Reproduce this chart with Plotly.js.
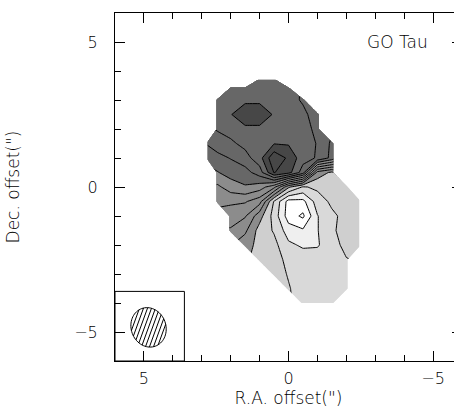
<!DOCTYPE html>
<html>
<head>
<meta charset="utf-8">
<script src="https://cdn.plot.ly/plotly-3.0.1.min.js"></script>
<style>
html,body{margin:0;padding:0;overflow:hidden;background:#fff;}
#chart{width:462px;height:409px;}
</style>
</head>
<body>
<div id="chart"></div>
<script>
// R.A. offsets (arcsec) of the grid columns
const raOffset = [-2.45, -2.0, -1.5, -1.0, -0.5, 0, 0.5, 1.0, 1.5, 2.0, 2.45, 2.8];
// Dec. offsets (arcsec) of the grid rows
const decOffset = [-4.0, -3.5, -3.0, -2.5, -2.0, -1.5, -1.0, -0.5, 0, 0.5, 1.0, 1.5, 2.0, 2.5, 3.0, 3.4, 3.7];
// map values in contour-level units (null = outside the mapped area)
const n = null;
const mapValues = [
  [n,    n,    3.6,  3.6,  3.8,  n,    n,    n,    n,    n,    n,    n   ], // -4.0
  [n,    3.8,  3.6,  3.55, 3.7,  4.05, n,    n,    n,    n,    n,    n   ], // -3.5
  [n,    3.8,  3.6,  3.5,  3.6,  3.95, 4.3,  n,    n,    n,    n,    n   ], // -3.0
  [n,    3.95, 3.7,  3.5,  3.5,  3.8,  4.3,  4.6,  n,    n,    n,    n   ], // -2.5
  [4.5,  4.3,  3.6,  2.9,  2.85, 3.2,  4.3,  4.7,  5.4,  n,    n,    n   ], // -2.0
  [4.6,  4.5,  3.8,  2.95, 2.15, 2.5,  3.9,  4.6,  6.2,  6.9,  n,    n   ], // -1.5
  [4.5,  4.3,  3.8,  2.95, 0.8,  1.5,  3.6,  5.4,  7.1,  7.4,  n,    n   ], // -1.0
  [4.7,  4.5,  4.2,  3.5,  1.7,  1.6,  3.9,  7.4,  8.1,  8.2,  8.3,  n   ], // -0.5
  [n,    4.7,  4.5,  4.2,  3.9,  5.2,  8.3,  9.5,  9.9,  9.5,  8.8,  n   ], //  0.0
  [n,    n,    4.8,  5.6,  11.5, 13.4, 14.05,11.5, 10.6, 10.4, 9.95, n   ], //  0.5
  [n,    n,    10.7, 11.9, 12.4, 13.8, 14.8, 12.6, 11.6, 11.05,10.7, 10.3], //  1.0
  [n,    n,    10.8, 11.95,12.4, 12.9, 12.95,12.7, 12.3, 11.8, 11.5, 11.1], //  1.5
  [n,    n,    n,    11.8, 12.3, 12.5, 12.7, 12.8, 12.8, 12.4, 12.1, n   ], //  2.0
  [n,    n,    n,    11.6, 12.2, 12.5, 12.9, 13.6, 13.6, 12.95,12.5, n   ], //  2.5
  [n,    n,    n,    n,    11.9, 12.3, 12.6, 12.8, 12.8, 12.6, 12.4, n   ], //  3.0
  [n,    n,    n,    n,    n,    12.2, 12.4, 12.6, 12.6, 12.5, n,    n   ], //  3.4
  [n,    n,    n,    n,    n,    n,    12.4, 12.5, n,    n,    n,    n   ]  //  3.7
];
// contour levels
const levelStart = 1, levelEnd = 14, levelStep = 1;
// grey of each band: below first level, then above each level in turn
const bandGreys = ['#ffffff','#ffffff','#efefef','#d9d9d9','#cfcfcf',
                   '#8c8c8c','#8c8c8c','#8c8c8c','#8c8c8c','#8c8c8c',
                   '#676767','#676767','#676767','#474747','#474747'];
// tick values
const majorTicks = [-5, 0, 5];
const sourceName = 'GO Tau';
// beam (arcsec, degrees)
const beamCentre = [4.84, -4.84];
const beamMajor = 1.38, beamMinor = 1.2, beamPA = 20;
const beamBox = {x0: 6, x1: 3.6, y0: -6, y1: -3.6};

// ---- build ----
const colorscale = bandGreys.map((c, i) => [i / (bandGreys.length - 1), c]);

const mapTrace = {
  type: 'contour',
  x: raOffset, y: decOffset, z: mapValues,
  connectgaps: false,
  autocontour: false,
  contours: {start: levelStart, end: levelEnd, size: levelStep, coloring: 'fill', showlines: true},
  colorscale: colorscale,
  showscale: false,
  line: {color: '#000', width: 1, smoothing: 0},
  hoverinfo: 'skip'
};

// beam ellipse geometry
const d2r = Math.PI / 180;
const a = beamMajor / 2, b = beamMinor / 2;
const u = [Math.sin(beamPA * d2r), Math.cos(beamPA * d2r)];
const v = [Math.cos(beamPA * d2r), -Math.sin(beamPA * d2r)];
let path = '';
for (let k = 0; k <= 72; k++) {
  const t = 2 * Math.PI * k / 72;
  const px = beamCentre[0] + a * Math.cos(t) * u[0] + b * Math.sin(t) * v[0];
  const py = beamCentre[1] + a * Math.cos(t) * u[1] + b * Math.sin(t) * v[1];
  path += (k === 0 ? 'M' : 'L') + px.toFixed(4) + ',' + py.toFixed(4);
}
path += 'Z';

const shapes = [
  {type: 'rect', xref: 'x', yref: 'y', x0: beamBox.x0, x1: beamBox.x1, y0: beamBox.y0, y1: beamBox.y1,
   line: {color: '#000', width: 1}, fillcolor: 'rgba(0,0,0,0)'},
  {type: 'path', xref: 'x', yref: 'y', path: path, line: {color: '#000', width: 1}, fillcolor: 'rgba(0,0,0,0)'}
];
// hatching: "/" lines across the beam
const hatchAng = 70 * d2r;
const dvec = [-Math.cos(hatchAng), Math.sin(hatchAng)];
const nvec = [Math.sin(hatchAng), Math.cos(hatchAng)];
const du = dvec[0]*u[0] + dvec[1]*u[1], dv = dvec[0]*v[0] + dvec[1]*v[1];
const nu = nvec[0]*u[0] + nvec[1]*u[1], nv = nvec[0]*v[0] + nvec[1]*v[1];
for (let k = -4; k <= 4; k++) {
  const s = k * 0.13;
  const A = du*du/(a*a) + dv*dv/(b*b);
  const B = 2 * s * (nu*du/(a*a) + nv*dv/(b*b));
  const C = s*s*(nu*nu/(a*a) + nv*nv/(b*b)) - 1;
  const disc = B*B - 4*A*C;
  if (disc <= 0) continue;
  const t1 = (-B - Math.sqrt(disc)) / (2*A), t2 = (-B + Math.sqrt(disc)) / (2*A);
  shapes.push({type: 'line', xref: 'x', yref: 'y',
    x0: beamCentre[0] + s*nvec[0] + t1*dvec[0], y0: beamCentre[1] + s*nvec[1] + t1*dvec[1],
    x1: beamCentre[0] + s*nvec[0] + t2*dvec[0], y1: beamCentre[1] + s*nvec[1] + t2*dvec[1],
    line: {color: '#000', width: 1}});
}

const fontFam = 'DejaVu Sans, Liberation Sans, sans-serif';
const textFont = (sz) => ({family: fontFam, size: sz, color: '#000', weight: 200});
const axisCommon = {
  showgrid: false, zeroline: false,
  showline: true, linecolor: '#000', linewidth: 1, mirror: 'ticks',
  ticks: 'inside', ticklen: 10, tickwidth: 1, tickcolor: '#000',
  tickmode: 'array', tickvals: majorTicks,
  minor: {dtick: 1, tick0: 0, ticks: 'inside', ticklen: 6, tickwidth: 1, tickcolor: '#000', showgrid: false},
  tickfont: textFont(16),
  automargin: false
};

const layout = {
  width: 462, height: 409,
  margin: {l: 115, r: 0, t: 13, b: 48},
  paper_bgcolor: '#fff', plot_bgcolor: '#fff',
  showlegend: false,
  xaxis: Object.assign({}, axisCommon, {
    range: [6, -6],
    ticklabelstandoff: 3,
    title: {text: 'R.A. offset(")', font: textFont(17), standoff: 4}
  }),
  yaxis: Object.assign({}, axisCommon, {
    range: [-6, 6],
    ticklabelstandoff: 13,
    title: {text: 'Dec. offset(")', font: textFont(17), standoff: 50}
  }),
  shapes: shapes,
  annotations: [{
    xref: 'x', yref: 'y', x: -3.77, y: 5.0, text: sourceName, showarrow: false,
    xanchor: 'center', yanchor: 'middle', font: textFont(17)
  }]
};

Plotly.newPlot('chart', [mapTrace], layout, {displayModeBar: false, staticPlot: true});
</script>
</body>
</html>
